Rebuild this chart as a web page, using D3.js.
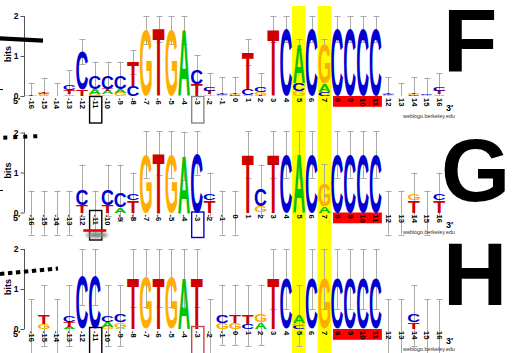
<!DOCTYPE html>
<html>
<head>
<meta charset="utf-8">
<script src="https://cdn.jsdelivr.net/npm/d3@7"></script>
<style>
  html, body { margin: 0; padding: 0; background: #fff; }
  svg { display: block; }
</style>
</head>
<body>
<svg id="fig" width="512" height="353"></svg>
<script>
// Sequence positions relative to the motif centre
const positions = d3.range(-16, 17);
const bitTicks = [0, 1, 2];

// Letter stacks per position, listed bottom → top as [base, bits]
const stacksF = [
  [["T",0.02]],
  [["A",0.02],["G",0.02],["C",0.03],["T",0.04]],
  [],
  [["A",0.04],["T",0.10],["C",0.14]],
  [["T",0.16],["C",0.95]],
  [["G",0.06],["A",0.12],["C",0.32]],
  [["G",0.04],["A",0.08],["T",0.06],["C",0.32]],
  [["G",0.08],["A",0.10],["C",0.32]],
  [["C",0.25],["T",0.60]],
  [["G",1.65]],
  [["T",1.68]],
  [["G",1.65]],
  [["A",1.65]],
  [["T",0.30],["C",0.36]],
  [["G",0.04],["T",0.08],["C",0.08]],
  [["G",0.02],["C",0.03],["T",0.03]],
  [["C",0.02],["G",0.03],["T",0.04]],
  [["A",0.03],["C",0.15],["T",0.92]],
  [["T",0.03],["G",0.07],["C",0.12]],
  [["T",1.67]],
  [["C",1.67]],
  [["G",0.12],["C",0.20],["A",0.98]],
  [["C",1.67]],
  [["C",0.10],["A",0.20],["G",1.00]],
  [["C",1.67]],
  [["C",1.67]],
  [["C",1.67]],
  [["C",1.67]],
  [["G",0.02],["C",0.02],["T",0.04]],
  [],
  [["C",0.02],["G",0.02],["T",0.04]],
  [["G",0.02],["C",0.04]],
  [["A",0.04],["T",0.08],["C",0.10]]
];
const errF = [0.31,0.35,0.33,0.37,0.31,0.36,0.36,0.36,0.30,0.35,0.32,0.35,0.35,0.37,0.38,0.40,0.39,
              0.32,0.35,0.33,0.33,0.12,0.33,0.12,0.33,0.33,0.33,0.33,0.39,0.33,0.39,0.40,0.35];

const stacksG = [
  [], [], [], [],
  [["T",0.18],["C",0.38]],
  [],
  [["T",0.18],["C",0.38]],
  [["A",0.14],["C",0.36]],
  [["T",0.30],["C",0.15]],
  [["G",1.45]],
  [["T",1.48]],
  [["G",1.45]],
  [["A",1.42]],
  [["C",1.48]],
  [["T",0.30],["C",0.15]],
  [],
  [],
  [["T",1.45]],
  [["G",0.15],["C",0.42]],
  [["T",1.45]],
  [["C",1.45]],
  [["A",1.45]],
  [["C",1.45]],
  [["A",0.15],["G",0.55]],
  [["C",1.45]],
  [["C",1.45]],
  [["C",1.45]],
  [["C",1.45]],
  [],
  [],
  [["T",0.30],["G",0.15]],
  [],
  [["T",0.30],["C",0.15]]
];
const errG = [0.55,0.55,0.55,0.55,0.64,0.55,0.64,0.70,0.55,0.58,0.55,0.58,0.60,0.55,0.55,0.55,0.55,
              0.58,0.63,0.58,0.58,0.58,0.58,0.51,0.58,0.58,0.58,0.58,0.55,0.55,0.55,0.55,0.55];

const stacksH = [
  [],
  [["G",0.12],["T",0.22]],
  [],
  [["A",0.05],["T",0.13],["C",0.16]],
  [["C",1.30]],
  [["C",1.30]],
  [["G",0.05],["A",0.13],["C",0.16]],
  [["A",0.03],["G",0.13],["C",0.18]],
  [["T",1.27]],
  [["G",1.27]],
  [["T",1.27]],
  [["G",1.27]],
  [["A",1.27]],
  [["T",1.27]],
  [],
  [["G",0.15],["C",0.20]],
  [["G",0.15],["T",0.20]],
  [["C",0.12],["T",0.22]],
  [["A",0.17],["G",0.18]],
  [["T",1.25]],
  [["C",1.25]],
  [["C",0.08],["G",0.06],["A",0.20]],
  [["C",1.25]],
  [["G",1.25]],
  [["C",1.25]],
  [["C",1.25]],
  [["C",1.25]],
  [["C",1.25]],
  [],
  [],
  [["T",0.16],["C",0.18]],
  [],
  []
];
const errH = [0.74,0.76,0.74,0.76,0.70,0.70,0.76,0.76,0.73,0.73,0.73,0.73,0.73,0.73,0.75,0.76,0.76,
              0.76,0.76,0.75,0.75,0.76,0.75,0.75,0.75,0.75,0.75,0.75,0.74,0.74,0.76,0.74,0.74];

// Highlighted columns and the boxed run of C's
const highlightCols = [5, 7];
const boxedRun = [8, 11];
const panelNames = ["F", "G", "H"];

const baseColor = { A: "#00c400", C: "#0000d0", G: "#ffae00", T: "#d00000" };
const letterFont = "bold 100px 'Liberation Sans', Arial, sans-serif";

// Measure the ink box of each glyph so letters can be stretched to exact heights
const ctx = document.createElement("canvas").getContext("2d");
ctx.font = letterFont;
const glyph = {};
["A","C","G","T"].forEach(b => {
  const m = ctx.measureText(b);
  glyph[b] = { l: m.actualBoundingBoxLeft, r: m.actualBoundingBoxRight,
               a: m.actualBoundingBoxAscent, d: m.actualBoundingBoxDescent };
});

const svg = d3.select("#fig");
const defs = svg.append("defs");
defs.append("filter").attr("id", "soft").append("feGaussianBlur").attr("stdDeviation", 1.6);

const x = d3.scaleLinear().domain([-16, 16]).range([31, 439.3]);
const colW = 11.8;

// Yellow column highlights run behind all three logos
const hl = svg.append("g");
highlightCols.forEach(c => {
  hl.append("rect").attr("x", x(c) - 6.9).attr("y", 6).attr("width", 13.6).attr("height", 347)
    .attr("fill", "#ffff00");
});

const panels = [
  { name: panelNames[0], zero: 96,    stacks: stacksF, err: errF, clip: true,  tag: [443, 72] },
  { name: panelNames[1], zero: 212.5, stacks: stacksG, err: errG, clip: false, tag: [441, 200.5] },
  { name: panelNames[2], zero: 329,   stacks: stacksH, err: errH, clip: false, tag: [443, 305] }
];

panels.forEach(p => {
  const y = d3.scaleLinear().domain([0, 2]).range([p.zero, p.zero - 80]);
  const g = svg.append("g");

  // red band under the boxed run of positions
  g.append("rect")
    .attr("x", x(boxedRun[0]) - 4.2).attr("y", p.zero)
    .attr("width", x(boxedRun[1]) - x(boxedRun[0]) + 10.6).attr("height", 10.8)
    .attr("fill", "#ff0000");

  // error bars
  const eb = g.append("g").attr("stroke", "#aaaaaa").attr("stroke-width", 1).attr("fill", "none");
  positions.forEach((pos, i) => {
    const h = d3.sum(p.stacks[i], d => d[1]);
    const e = p.err[i];
    const top = h + e;
    let bot = h - e;
    const clipped = p.clip && bot < 0;
    if (clipped) bot = 0;
    const cx = Math.round(x(pos)) + 0.5;
    eb.append("line").attr("x1", cx).attr("x2", cx).attr("y1", y(top)).attr("y2", y(bot));
    eb.append("line").attr("x1", cx - 3).attr("x2", cx + 3).attr("y1", Math.round(y(top)) + 0.5).attr("y2", Math.round(y(top)) + 0.5);
    if (!clipped) {
      eb.append("line").attr("x1", cx - 3).attr("x2", cx + 3).attr("y1", Math.round(y(bot)) + 0.5).attr("y2", Math.round(y(bot)) + 0.5);
    }
  });

  // letter stacks
  const lg = g.append("g");
  positions.forEach((pos, i) => {
    let acc = 0;
    p.stacks[i].forEach(([b, bits]) => {
      const gm = glyph[b];
      const yb = y(acc);
      const hpx = y(0) - y(bits);
      acc += bits;
      if (hpx <= 0.05) return;
      const sx = colW / (gm.l + gm.r);
      const sy = hpx / (gm.a + gm.d);
      lg.append("text")
        .attr("transform", `translate(${x(pos) - colW / 2},${yb}) scale(${sx},${sy}) translate(${gm.l},${-gm.d})`)
        .style("font", letterFont)
        .attr("fill", baseColor[b])
        .text(b);
    });
  });

  // y axis
  const ya = g.append("g").attr("transform", "translate(24.5,0)")
    .call(d3.axisLeft(y).tickValues(bitTicks).tickSize(4).tickPadding(2).tickFormat(d3.format("d")));
  ya.select(".domain").attr("stroke", "#555").attr("d", `M0,${y(2)}V${y(0)}`);
  ya.selectAll(".tick line").attr("stroke", "#555");
  ya.selectAll(".tick text").attr("fill", "#000")
    .style("font", "bold 8.5px 'Liberation Sans', Arial, sans-serif");

  g.append("text")
    .attr("transform", `translate(10.5,${y(1.05)}) rotate(-90)`)
    .attr("text-anchor", "middle")
    .style("font", "bold 9px 'Liberation Sans', Arial, sans-serif")
    .attr("fill", "#000").text("bits");

  // position labels
  const xa = g.append("g").attr("transform", `translate(0,${p.zero})`)
    .call(d3.axisBottom(x).tickValues(positions).tickSize(0).tickFormat(d => String(d)));
  xa.select(".domain").remove();
  xa.selectAll(".tick text")
    .attr("transform", "rotate(90)")
    .attr("x", 2).attr("y", 0).attr("dy", "0.36em")
    .attr("text-anchor", "start")
    .attr("fill", "#000")
    .style("font", "bold 7.6px 'Liberation Sans', Arial, sans-serif");

  g.append("text").attr("x", 13).attr("y", p.zero + 8)
    .style("font", "bold 9px 'Liberation Sans', Arial, sans-serif").text("5\u2032");
  g.append("text").attr("x", 446).attr("y", p.zero + 15)
    .style("font", "bold 9px 'Liberation Sans', Arial, sans-serif").text("3\u2032");
  g.append("text").attr("x", 403).attr("y", p.zero + 21.5)
    .style("font", "5.4px 'Liberation Sans', Arial, sans-serif").attr("fill", "#333")
    .text("weblogo.berkeley.edu");

  // panel letter
  g.append("text").attr("x", p.tag[0]).attr("y", p.tag[1])
    .style("font", "bold 89px 'Liberation Sans', Arial, sans-serif")
    .attr("fill", "#000").text(p.name);
});

// Boxes marking positions -11 and -3
const marks = svg.append("g").attr("fill", "none").attr("stroke-width", 1.4);
function posBox(pos, y0, y1, color) {
  marks.append("rect").attr("x", x(pos) - 5.2).attr("y", y0)
    .attr("width", 12.2).attr("height", y1 - y0).attr("stroke", color);
}
posBox(-11, 96.5, 123, "#000");
posBox(-3, 96.5, 123, "#888");
svg.append("ellipse").attr("cx", x(-11) + 2).attr("cy", 235).attr("rx", 11).attr("ry", 3)
  .attr("fill", "#888").attr("filter", "url(#soft)");
posBox(-11, 210.5, 240, "#000");
posBox(-3, 212, 237.5, "#0000dd");
svg.append("line").attr("x1", x(-11) - 11.5).attr("x2", x(-11) + 11.5).attr("y1", 230.5).attr("y2", 230.5)
  .attr("stroke", "#ee0000").attr("stroke-width", 2.6);
posBox(-11, 327.5, 356, "#000");
posBox(-3, 326.5, 356, "#c84848");

// Hand-drawn marker strokes at the left edge
svg.append("line").attr("x1", -1).attr("y1", 38.3).attr("x2", 43).attr("y2", 40.6)
  .attr("stroke", "#000").attr("stroke-width", 4.4);
svg.append("line").attr("x1", 3.3).attr("y1", 137.7).attr("x2", 41).attr("y2", 136)
  .attr("stroke", "#000").attr("stroke-width", 4).attr("stroke-dasharray", "4,6");
svg.append("line").attr("x1", 0).attr("y1", 274).attr("x2", 58).attr("y2", 268.5)
  .attr("stroke", "#000").attr("stroke-width", 4).attr("stroke-dasharray", "4.4,3.6");
svg.append("line").attr("x1", 0).attr("y1", 89.5).attr("x2", 3).attr("y2", 89.5).attr("stroke", "#000");
svg.append("line").attr("x1", 0).attr("y1", 190.5).attr("x2", 3).attr("y2", 190.5).attr("stroke", "#000");
</script>
</body>
</html>
